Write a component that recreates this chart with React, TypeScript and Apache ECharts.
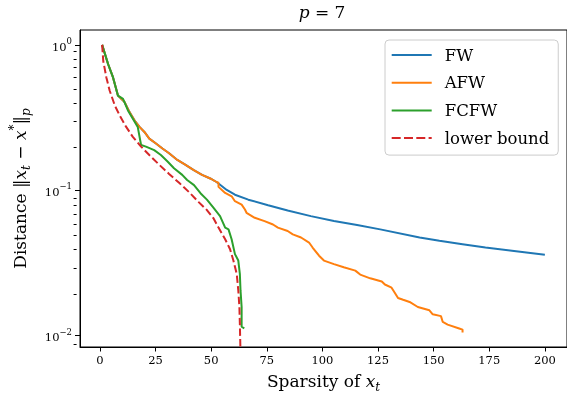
import React, { useEffect, useRef } from 'react';
import * as echarts from 'echarts';

const FONT = 'DejaVu Serif';

const X_TICKS = [0, 25, 50, 75, 100, 125, 150, 175, 200];
const Y_MAJOR = [0.01, 0.1, 1];
const Y_MINOR = [
  0.009,
  0.02, 0.03, 0.04, 0.05, 0.06, 0.07, 0.08, 0.09,
  0.2, 0.3, 0.4, 0.5, 0.6, 0.7, 0.8, 0.9,
];
const X_MIN = -8.95;
const X_MAX = 209.95;
const Y_MIN = 0.00827;
const Y_MAX = 1.266;

const LEGEND_NAMES = ['FW', 'AFW', 'FCFW', 'lower bound'];
const COLORS = ['#1f77b4', '#ff7f0e', '#2ca02c', '#d62728'];

const SHARED_START: [number, number][] = [
  [1, 1.0], [3.7, 0.735], [5.9, 0.596], [8.1, 0.447], [11.1, 0.403], [13.3, 0.344],
  [15.6, 0.301], [17.8, 0.272], [20, 0.251], [22.2, 0.226], [25.2, 0.209], [28.1, 0.193],
  [31.1, 0.179], [34.8, 0.161], [38.5, 0.149], [42.2, 0.137], [45.9, 0.127], [49.6, 0.12],
  [52.6, 0.113],
];

const FW_TAIL: [number, number][] = [
  [57, 0.1], [60.7, 0.0927], [66.7, 0.0857], [75.6, 0.0785], [84.4, 0.0721], [94.8, 0.066],
  [105.2, 0.061], [115.6, 0.0573], [126, 0.0535], [143.7, 0.047], [152.6, 0.0446],
  [163, 0.0423], [173.3, 0.0401], [185.2, 0.0381], [200, 0.0358],
];

const AFW_TAIL: [number, number][] = [
  [53.3, 0.112], [53.3, 0.105], [56.3, 0.0953], [59.2, 0.0904], [60.7, 0.0836], [63.7, 0.0792],
  [65.2, 0.0733], [65.9, 0.0696], [69.6, 0.0643], [74, 0.061], [77.8, 0.0578], [80, 0.055],
  [84.4, 0.0521], [86.7, 0.0494], [90.4, 0.047], [94, 0.0434], [95.6, 0.0401], [98.5, 0.0352],
  [100.7, 0.0326], [105.2, 0.0308], [109.6, 0.0293], [114.8, 0.0278], [117, 0.0261],
  [121.5, 0.0246], [126.7, 0.0234], [128.1, 0.0223], [131.1, 0.0212], [132.6, 0.0195],
  [134, 0.018], [136.3, 0.0175], [139.2, 0.0169], [142.9, 0.0156], [148.1, 0.0148],
  [149.6, 0.0139], [153.3, 0.0135], [154.1, 0.0123], [156.3, 0.0118], [161.5, 0.0111],
  [163, 0.0109], [163, 0.0104],
];

const FW = [...SHARED_START, ...FW_TAIL];
const AFW = [...SHARED_START, ...AFW_TAIL];

const FCFW: [number, number][] = [
  [1, 1.0], [3.7, 0.735], [5.9, 0.596], [8.1, 0.447], [10.4, 0.424], [12.6, 0.353],
  [14.8, 0.31], [17, 0.272], [18.5, 0.204], [20.7, 0.199], [24.4, 0.188], [27.4, 0.174],
  [30.4, 0.157], [33.3, 0.141], [37, 0.127], [39.2, 0.117], [42.3, 0.108], [45.2, 0.095],
  [48.1, 0.0857], [51.1, 0.0752], [54, 0.066], [56.3, 0.055], [57.8, 0.0535], [59.2, 0.0457],
  [60.7, 0.0361], [62.2, 0.0326], [62.9, 0.0264], [63.2, 0.0203], [63.7, 0.0156],
  [63.7, 0.0114], [64.9, 0.0111],
];

const LOWER: [number, number][] = [
  [1, 1.0], [1.5, 0.774], [2.9, 0.596], [4.4, 0.483], [6.7, 0.382], [8.9, 0.326],
  [11.8, 0.272], [14.8, 0.232], [18.5, 0.199], [22.2, 0.174], [26.7, 0.149], [31.1, 0.129],
  [35.6, 0.112], [40, 0.0968], [44.4, 0.0824], [48.1, 0.0727], [51.1, 0.0636], [53.3, 0.055],
  [56.3, 0.0457], [58.5, 0.039], [60, 0.0326], [61.5, 0.0264], [62.2, 0.0203],
  [62.7, 0.0156], [62.9, 0.012], [63.2, 0.0075],
];

const SERIES_DATA = [FW, AFW, FCFW, LOWER];

const SOLID_ICON = 'path://M0,0h40v2h-40z';
const DASH_ICON = 'path://M0,0h9v2h-9zM12.3,0h9v2h-9zM24.6,0h9v2h-9zM36.9,0h3.1v2h-3.1z';

export default function App() {
  const ref = useRef<HTMLDivElement>(null);
  useEffect(() => {
    if (!ref.current) return;
    const chart = echarts.init(ref.current, undefined, { renderer: 'svg' });
    const textBase = { fontFamily: FONT, color: '#000' };
    const lineSeries = SERIES_DATA.map((d, i) => ({
      name: LEGEND_NAMES[i],
      type: 'line',
      data: d,
      xAxisIndex: 0,
      yAxisIndex: 0,
      symbol: 'none',
      showSymbol: false,
      clip: true,
      z: 2 + i,
      itemStyle: { color: COLORS[i] },
      lineStyle: { color: COLORS[i], width: 2, type: i === 3 ? [7.4, 3.2] : 'solid' },
    }));
    const gridBox = { left: 76.6, top: 30, bottom: 48, right: -2, containLabel: false };
    chart.setOption({
      animation: false,
      title: {
        text: '{i|p}{n| = 7}',
        left: 322,
        top: 3,
        padding: 0,
        textAlign: 'center',
        textStyle: {
          ...textBase,
          fontSize: 17,
          fontWeight: 'normal',
          rich: {
            i: { ...textBase, fontSize: 17, fontStyle: 'italic' },
            n: { ...textBase, fontSize: 17 },
          },
        },
      },
      grid: [
        { ...gridBox, show: true, borderColor: '#000', borderWidth: 1 },
        { ...gridBox, show: false },
      ],
      legend: {
        data: LEGEND_NAMES.map((n, i) => ({ name: n, icon: i === 3 ? DASH_ICON : SOLID_ICON })),
        orient: 'vertical',
        left: 385,
        top: 40,
        itemWidth: 40,
        itemHeight: 2,
        itemGap: 9.7,
        padding: [6, 9, 8, 6.7],
        borderColor: '#cccccc',
        borderWidth: 1,
        borderRadius: 4,
        backgroundColor: 'rgba(255,255,255,0.8)',
        itemStyle: { borderWidth: 0 },
        textStyle: { ...textBase, fontSize: 16.5, lineHeight: 18, padding: [0, 0, 0, 8] },
      },
      xAxis: [
        {
          type: 'value',
          gridIndex: 0,
          min: X_MIN,
          max: X_MAX,
          name: '{n|Sparsity of }{i|x}{sub|t}',
          nameLocation: 'middle',
          nameGap: 22,
          nameTextStyle: {
            ...textBase,
            fontSize: 17,
            rich: {
              n: { ...textBase, fontSize: 17, lineHeight: 24 },
              i: { ...textBase, fontSize: 17, fontStyle: 'italic', lineHeight: 24 },
              sub: { ...textBase, fontSize: 12, fontStyle: 'italic', verticalAlign: 'bottom', lineHeight: 14 },
            },
          },
          axisLine: { show: true, onZero: false, lineStyle: { color: '#000', width: 1 } },
          axisTick: { show: true, customValues: X_TICKS, length: 4.5, lineStyle: { color: '#000', width: 1 } },
          axisLabel: { customValues: X_TICKS, ...textBase, fontSize: 11.5, margin: 7 },
          splitLine: { show: false },
        },
        {
          type: 'value',
          gridIndex: 1,
          min: X_MIN,
          max: X_MAX,
          show: false,
          splitLine: { show: false },
        },
      ],
      yAxis: [
        {
          type: 'log',
          gridIndex: 0,
          min: Y_MIN,
          max: Y_MAX,
          name: '{n|Distance }{m|‖}{i|x}{sub|t}{m| − }{i|x}{sup|*}{m|‖}{sub|p}',
          nameLocation: 'middle',
          nameRotate: 90,
          nameGap: 48,
          nameTextStyle: {
            ...textBase,
            fontSize: 17,
            rich: {
              n: { ...textBase, fontSize: 17, lineHeight: 24 },
              m: { ...textBase, fontSize: 17, lineHeight: 24 },
              i: { ...textBase, fontSize: 17, fontStyle: 'italic', lineHeight: 24 },
              sub: { ...textBase, fontSize: 12, fontStyle: 'italic', verticalAlign: 'bottom', lineHeight: 14 },
              sup: { ...textBase, fontSize: 12, verticalAlign: 'top', lineHeight: 14 },
            },
          },
          axisLine: { show: true, onZero: false, lineStyle: { color: '#000', width: 1 } },
          axisTick: { show: true, customValues: Y_MAJOR, length: 5, lineStyle: { color: '#000', width: 1 } },
          axisLabel: {
            customValues: Y_MAJOR,
            margin: 8,
            padding: [4, 0, 0, 0],
            formatter: (v: number) => {
              const e = Math.round(Math.log10(v));
              return '{b|10}{sup|' + (e < 0 ? '\u2212' + Math.abs(e) : String(e)) + '}';
            },
            rich: {
              b: { ...textBase, fontSize: 11.5, lineHeight: 20 },
              sup: { ...textBase, fontSize: 8.5, verticalAlign: 'top', lineHeight: 10 },
            },
          },
          splitLine: { show: false },
        },
        {
          type: 'log',
          gridIndex: 1,
          min: Y_MIN,
          max: Y_MAX,
          position: 'left',
          axisLine: { show: false, onZero: false },
          axisTick: { show: true, customValues: Y_MINOR, length: 3, lineStyle: { color: '#000', width: 1 } },
          axisLabel: { show: false },
          splitLine: { show: false },
        },
      ],
      series: lineSeries,
    });
    return () => chart.dispose();
  }, []);
  return <div ref={ref} style={{ position: 'fixed', left: 0, top: 0, width: 567, height: 398 }} />;
}
